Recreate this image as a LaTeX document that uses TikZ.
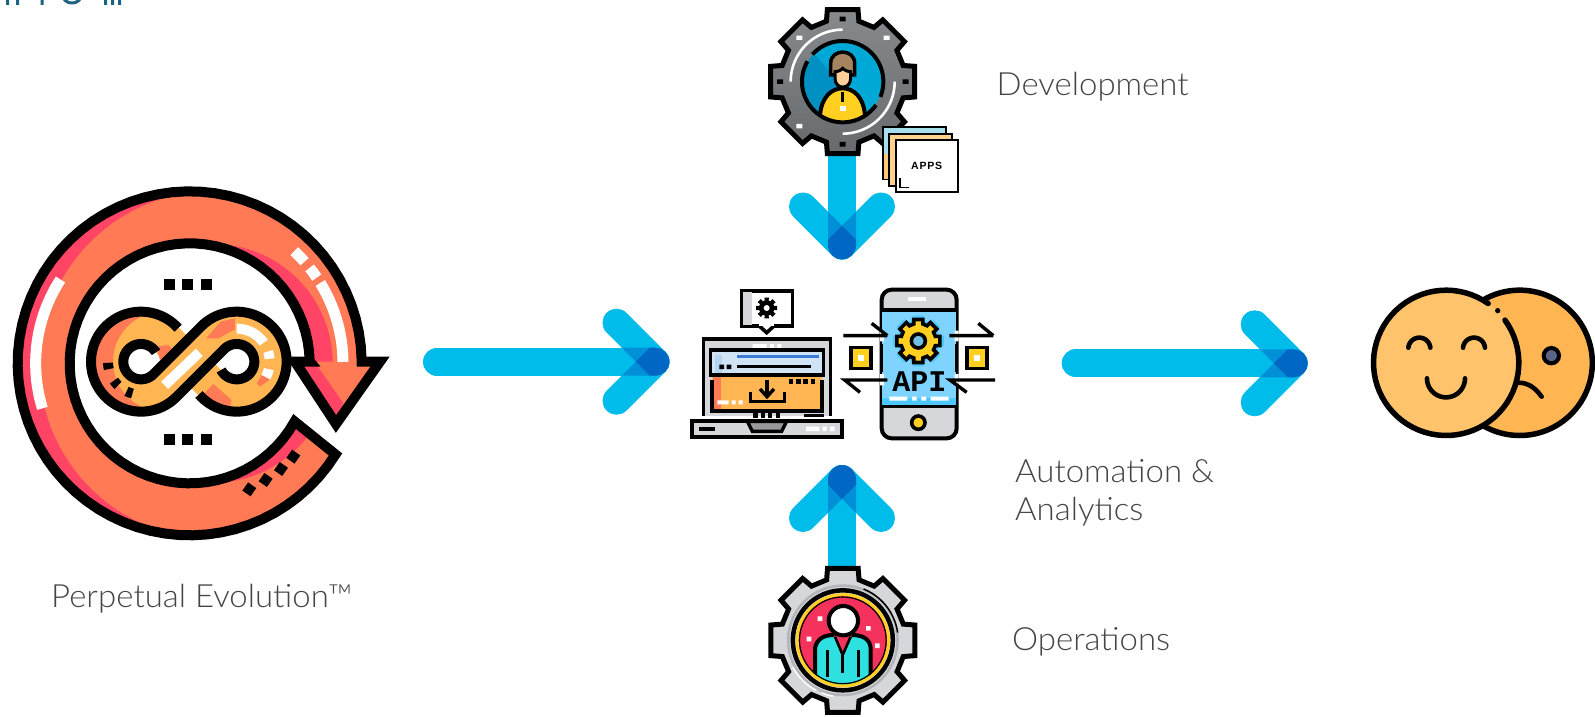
\documentclass[tikz,border=0pt]{standalone}
\usepackage{fontspec}
\setmainfont{Liberation Sans}
\newfontfamily\lightfont[UprightFont=* Light,FakeStretch=1.03]{Lato}
\newfontfamily\apifont[BoldFont=*]{Liberation Mono Bold}
\usetikzlibrary{calc}
\definecolor{arrowcyan}{HTML}{00BCEB}
\definecolor{arrowmid}{HTML}{0090D8}
\definecolor{arrowdark}{HTML}{0068C4}
\definecolor{flame}{HTML}{FF7A55}
\definecolor{crimson}{HTML}{FF4465}
\definecolor{amber}{HTML}{FFB652}
\definecolor{label}{HTML}{454547}
\definecolor{steel}{HTML}{7A7D80}
\definecolor{silver}{HTML}{D6D7DA}
\definecolor{skyfill}{HTML}{7ED4FF}
\definecolor{golden}{HTML}{FFD020}
\definecolor{titleblue}{HTML}{1B6285}
\tikzset{
  lbl/.style={font=\lightfont\fontsize{32}{38}\selectfont,text=label,anchor=base west,inner sep=0pt},
  ink/.style={draw=black,line width=#1},
  ink/.default=5pt,
  zoomed/.style={x=0.33333pt,y=-0.33333pt},
}
% arc in screen-clockwise degrees about (#1,#2)
\def\arcc#1#2#3#4#5{plot[domain=#4:#5,samples=70,variable=\t]({#1+#3*cos(\t)},{#2+#3*sin(\t)})}
\def\larcc#1#2#3#4#5{-- plot[domain=#4:#5,samples=70,variable=\t]({#1+#3*cos(\t)},{#2+#3*sin(\t)})}
\newcommand\gearshape[4]{({#1+#4*#3*cos(-15)},{#2+#4*#3*sin(-15)})
  \foreach \a in {0,45,...,315}{
    -- ({#1+#4*#3*cos(\a-15)},{#2+#4*#3*sin(\a-15)})
    -- ({#1+#3*cos(\a-12)},{#2+#3*sin(\a-12)})
    -- ({#1+#3*cos(\a+12)},{#2+#3*sin(\a+12)})
    -- ({#1+#4*#3*cos(\a+15)},{#2+#4*#3*sin(\a+15)})
  } -- cycle}
% #1 tail coordinate, #2 tip coordinate, #3 rotation
\newcommand\bluearrow[3]{%
  \draw[arrowcyan,line width=28pt,line cap=round] (#1) -- (#2);
  \begin{scope}[shift={(#2)},rotate=#3]
    \draw[arrowcyan,line width=28pt,line cap=round,line join=round] (-39,39) -- (0,0) -- (-39,-39);
    \fill[arrowmid] (-33.8,14) -- (-19.8,0) -- (-33.8,-14) -- (0,-14) -- (0,14) -- cycle;
    \fill[arrowdark] (-19.8,0) -- (-5.8,14) -- (0,14) arc[start angle=90,end angle=-90,radius=14] -- (-5.8,-14) -- cycle;
  \end{scope}}
\begin{document}
\begin{tikzpicture}[x=1pt,y=-1pt,line join=miter]
\useasboundingbox (0,0) rectangle (1595,717);
\fill[white] (0,0) rectangle (1595,717);

% remnants of a cropped heading
\fill[titleblue] (6,0) rectangle (9,5) (16,0) rectangle (19,5) (40.5,0) rectangle (43.5,5)
  (104,0) rectangle (107,5) (111,0) rectangle (114,5) (118,0) rectangle (121,5);
\draw[titleblue,line width=3pt] \arcc{72}{-7}{10}{30}{150};

\coordinate (leftTail) at (437,361.7);   \coordinate (leftTip) at (655.5,361.7);
\coordinate (rightTail) at (1075.7,363.3); \coordinate (rightTip) at (1293.7,363.3);
\coordinate (devTail) at (842,140);      \coordinate (devTip) at (842,245.5);
\coordinate (opsTail) at (842,580);      \coordinate (opsTip) at (842,479);

\bluearrow{leftTail}{leftTip}{0}
\bluearrow{rightTail}{rightTip}{0}
\bluearrow{devTail}{devTip}{-90}
\bluearrow{opsTail}{opsTip}{90}

% ---------- Perpetual Evolution icon ----------
\begin{scope}[shift={(0,170)},zoomed]
  \def\loopshape{\arcc{569}{580}{516}{32}{359} -- (1085,575) -- (1140,575) -- (1008,762) -- (885,575) -- (930,575) \larcc{569}{580}{360}{-1}{-331} -- cycle}
  \fill[flame] \loopshape;
  \begin{scope}
    \clip \loopshape;
    \fill[crimson,even odd rule] (-100,-100) rectangle (1300,1300) (640,585) circle[radius=522];
    \fill[crimson] (640,580) circle[radius=358];
    \fill[flame] (885,575) -- (1140,575) -- (1008,762) -- cycle;
    \fill[crimson] (905,585) -- (950,585) -- (1030,700) -- (1005,745) -- cycle;
  \end{scope}
  \draw[white,line width=11pt] \arcc{569}{580}{462}{163}{213};
  \draw[white,line width=11pt] \arcc{569}{580}{460}{-31.6}{-0.5};
  \draw[white,line width=11pt] \arcc{569}{580}{460}{-47}{-41.5};
  \draw[white,line width=11pt] \arcc{569}{580}{460}{-38.5}{-34};
  \draw[ink=10pt] \loopshape;
  \foreach \x in {508,564,620}{
    \fill (\x-16.5,327) rectangle (\x+16.5,360);
    \fill (\x-16.5,792) rectangle (\x+16.5,825);
  }
  \foreach \x/\y in {748/958,797/930,843/897,880/860}{
    \fill[rotate around={-35:(\x,\y)}] (\x-15,\y-15) rectangle (\x+15,\y+15);
  }
  % infinity band
  \draw[amber,line width=34pt] \arcc{423}{575}{101.5}{45}{315} \larcc{710}{575}{101.5}{135}{-135} -- cycle;
  \fill[flame] \arcc{423}{575}{150}{77}{283} \larcc{489}{575}{150}{257}{103} -- cycle;
  \fill[white] (423,575) circle[radius=53] (710,575) circle[radius=53];
  \fill[flame] (618,505) -- (662,455) -- (705,445) -- (705,478) -- (655,505) -- cycle;
  \fill[flame] (610,672) -- (640,642) -- (695,690) -- (690,710) -- (640,700) -- cycle;
  \fill[flame] (470,530) -- (505,525) -- (515,535) -- (480,570) -- cycle;
  \fill[flame] (770,640) -- (800,590) -- (808,630) -- (780,650) -- cycle;
  \draw[white,line width=10pt] (494,646) -- (598,547);
  \draw[white,line width=10pt] \arcc{710}{575}{99}{-90}{-35};
  \draw[white,line width=10pt] \arcc{710}{575}{99}{-18}{-5};
  \draw[white,line width=10pt] \arcc{710}{575}{99}{13}{28};
  \draw[ink=10pt] \arcc{423}{575}{99}{167}{178};
  \draw[ink=10pt] \arcc{423}{575}{99}{134}{145};
  \draw[ink=10pt] \arcc{423}{575}{99}{105}{116};
  \draw[ink=10pt] \arcc{423}{575}{150}{-42}{-315} \larcc{710}{575}{53}{225}{512};
  \draw[ink=10pt] \arcc{710}{575}{150}{139}{-135} \larcc{423}{575}{53}{45}{328};
\end{scope}

% ---------- Development gear ----------
\begin{scope}[shift={(680,0)},zoomed]
  \draw[ink=5pt,top color=steel!90!white,bottom color=steel!85!black] \gearshape{488}{245}{221}{0.85};
  \draw[white,line width=2.6pt] \arcc{488}{245}{156}{180}{270};
  \draw[white,line width=2.6pt] \arcc{488}{245}{156}{0}{90};
  \fill[white] (349,107) rectangle (367,120) (611,107) rectangle (629,120) (349,372) rectangle (367,385);
  \fill[black] (479,50) rectangle (497,64) (479,426) rectangle (497,440) (291,238) rectangle (309,252) (668,238) rectangle (686,252);
  \begin{scope}
    \clip (488,245) circle[radius=120];
    \fill[fill={rgb,255:red,0;green,168;blue,214}] (488,245) circle[radius=120];
    \fill[fill={rgb,255:red,0;green,144;blue,194}] (340,120) -- (405,165) -- (570,350) -- (340,400) -- cycle;
    \draw[ink=4pt,fill=golden] (420,370) -- (420,345) .. controls (425,290) and (455,265) .. (488,265) .. controls (520,265) and (550,290) .. (555,345) -- (555,370) -- cycle;
  \end{scope}
  \draw[black,line width=2.6pt] (488,275) -- (488,305);
  \fill[white] (479,319) rectangle (497,332);
  \draw[ink=3.5pt,fill={rgb,255:red,166;green,132;blue,95}] (452,225) -- (452,190) .. controls (452,145) and (524,145) .. (524,190) -- (524,225) -- cycle;
  \draw[ink=3pt,fill={rgb,255:red,255;green,208;blue,154}] (465,215) .. controls (480,215) and (488,205) .. (488,205) .. controls (488,205) and (497,215) .. (512,215) -- (512,235) .. controls (512,270) and (465,270) .. (465,235) -- cycle;
  \draw[ink=4pt] \arcc{488}{245}{122}{35}{210};
  \draw[ink=4pt] \arcc{488}{245}{122}{222}{382};
  % app cards
  \draw[ink=1.7pt,fill={rgb,255:red,168;green,222;blue,235}] (610,382) rectangle (797,538);
  \fill[fill={rgb,255:red,255;green,200;blue,120}] (612,462) rectangle (640,536);
  \draw[ink=1.7pt,fill={rgb,255:red,253;green,210;blue,138}] (628,402) rectangle (815,557);
  \draw[ink=1.7pt,fill=white] (648,420) rectangle (834,575);
  \draw[black,line width=1.2pt] (660,535) -- (660,562) -- (688,562);
  \node (apps) at (740,497) {\fontsize{10.5}{12}\selectfont\bfseries A\kern.8pt P\kern.8pt P\kern.8pt S};
\end{scope}

% ---------- Operations gear ----------
\begin{scope}[shift={(750,460)},zoomed]
  \draw[ink=5pt,fill=silver] \gearshape{278.5}{541}{221}{0.85};
  \fill[fill={rgb,255:red,180;green,181;blue,186}] (278.5,541) circle[radius=168];
  \fill[silver] (278.5,541) circle[radius=160];
  \draw[black,line width=1.5pt] \arcc{278.5}{541}{166}{-68}{-8};
  \draw[white,line width=1.5pt] \arcc{278.5}{541}{170}{118}{152};
  \draw[white,line width=1.5pt] \arcc{278.5}{541}{170}{100}{112};
  \begin{scope}
    \clip (278.5,541) circle[radius=135];
    \fill[fill={rgb,255:red,245;green,50;blue,92}] (278.5,541) circle[radius=135];
    \draw[ink=4pt,fill={rgb,255:red,47;green,224;blue,224}] (195,690) -- (195,565) .. controls (200,535) and (225,525) .. (250,525) -- (306,525) .. controls (335,525) and (360,535) .. (362,565) -- (362,690) -- cycle;
    \fill[fill={rgb,255:red,245;green,50;blue,92}] (250,527) -- (306,527) -- (278,575) -- cycle;
    \draw[black,line width=2.6pt] (255,530) -- (278,585) -- (302,530);
    \draw[black,line width=2.6pt] (278,585) -- (278,640);
    \draw[black,line width=2.6pt] (233,570) -- (233,650);
    \draw[black,line width=2.6pt] (325,570) -- (325,650);
  \end{scope}
  \draw[ink=4pt,fill=white] (280,482) circle[radius=44];
  \fill[white] (203,469) rectangle (217,483) (170,530) rectangle (184,544) (348,498) rectangle (362,512) (375,550) rectangle (389,564);
  \draw[ink=4.5pt] (278.5,541) circle[radius=150];
  \draw[line width=3pt,golden] (278.5,541) circle[radius=137];
  \draw[black,line width=1.2pt] (278.5,541) circle[radius=130];
\end{scope}

% ---------- Laptop ----------
\begin{scope}[shift={(680,270)},zoomed]
  \draw[ink=3.6pt,fill=white] (185,63) rectangle (337,168);
  \fill[silver] (188,66) rectangle (215,165);
  \draw[ink=3.6pt,fill=white] (238,168) -- (260,188) -- (282,168);
  \fill[white] (238,162) rectangle (282,168);
  \fill[black] \gearshape{260}{114}{32}{0.72};
  \fill[white] (260,114) circle[radius=9];

  \draw[ink=3.6pt,fill=silver] (70,438) -- (70,207) -- (452,207) -- (452,438);
  \fill[white] (218,222) rectangle (260,235) (270,222) rectangle (282,235) (292,222) rectangle (304,235);
  \fill[amber] (95,315) rectangle (427,422);
  \fill[flame] (100,318) rectangle (122,420);
  \fill[fill={rgb,255:red,207;green,227;blue,245}] (95,245) rectangle (427,312);
  \fill[fill={rgb,255:red,58;green,123;blue,213}] (170,254) rectangle (418,263);
  \fill[fill={rgb,255:red,180;green,212;blue,240}] (105,254) rectangle (125,310);
  \draw[black,line width=3.2pt] (92,240) rectangle (430,315);
  \draw[black,line width=3.2pt] (172,290) -- (392,290);
  \fill (118,284) rectangle (132,297) (140,284) rectangle (154,297);
  \draw[black,line width=3.6pt] (96,330) -- (96,423) -- (426,423) -- (426,330);
  \foreach \x in {333,355,377,399}{\fill (\x-7,327) rectangle (\x+7,341);}
  \draw[black,line width=3pt] (211,367) -- (211,393) -- (312,393) -- (312,367);
  \draw[black,line width=3.4pt] (261,330) -- (261,378);
  \draw[black,line width=3.4pt] (240,357) -- (261,380) -- (282,357);
  \fill[white] (112,391) rectangle (146,403) (155,391) rectangle (167,403) (176,391) rectangle (188,403);
  \foreach \x in {226,248,270,293}{\fill (\x-6.5,430) rectangle (\x+6.5,443);}
  \fill (372,431) rectangle (432,442);
  \draw[ink=3.8pt,fill=silver] (37,452) rectangle (486,500);
  \draw[black,line width=3.4pt,fill={rgb,255:red,150;green,152;blue,155}] (202,454) -- (320,454) -- (305,484) -- (217,484) -- cycle;
  \fill (56,470) rectangle (104,484);
  \fill[white] (378,470) rectangle (418,483) (428,470) rectangle (440,483) (450,470) rectangle (464,483);

  % ---------- Phone ----------
  \draw[ink=4pt,fill=silver,rounded corners=10pt] (605,59) rectangle (830,505);
  \fill[skyfill] (607,122) rectangle (828,407);
  \fill[fill={rgb,255:red,77;green,200;blue,255}] \gearshape{715}{213}{78}{0.82};
  \fill[fill={rgb,255:red,77;green,200;blue,255}] (607,385) rectangle (828,407);
  \draw[black,line width=3.6pt] (605,120) -- (830,120) (605,410) -- (830,410);
  \fill[white] (685,81) rectangle (738,93);
  \draw[ink=3.6pt,fill=golden] (715,458) circle[radius=20];
  \fill[white] (628,380) rectangle (682,392) (696,380) rectangle (710,392) (724,380) rectangle (738,392) (752,380) rectangle (806,392);
  \draw[ink=3.6pt,fill=golden] \gearshape{715}{213}{66}{0.80};
  \draw[ink=3.6pt,fill=skyfill!90!black] (715,213) circle[radius=21];
  \node[font=\apifont\bfseries\fontsize{30}{30}\selectfont,text=black,inner sep=0pt] (api) at (718,335) {API};
  % white breaks in the phone edge
  \fill[white] (600,182) rectangle (612,214) (824,182) rectangle (836,214) (600,312) rectangle (612,346) (824,312) rectangle (836,346);
  \draw[black,line width=3.4pt] (490,197) -- (622,197) (575,160) -- (622,197);
  \draw[black,line width=3.4pt] (808,197) -- (940,197) (895,160) -- (940,197);
  \draw[black,line width=3.4pt] (622,330) -- (494,330) -- (540,367);
  \draw[black,line width=3.4pt] (945,330) -- (810,330) -- (860,367);
  \draw[black,line width=3.4pt] (605,222) -- (605,305) (830,222) -- (830,305);
  \foreach \x in {543.5,891.5}{
    \draw[ink=3.6pt,fill=golden] (\x-30,233) rectangle (\x+30,295);
    \fill[white] (\x-9,255) rectangle (\x+9,273);
  }
\end{scope}

% ---------- Faces ----------
\begin{scope}[shift={(1350,270)},zoomed]
  \draw[ink=5.5pt,fill=amber] (509,278.5) circle[radius=218];
  \draw[black,line width=4.6pt,line cap=round] (505,338) .. controls (540,338) and (560,360) .. (575,380);
  \draw[ink=4pt,fill={rgb,255:red,90;green,100;blue,136}] (604,257) circle[radius=23];
  \fill[fill={rgb,255:red,255;green,195;blue,107}] (288.5,278.5) circle[radius=218];
  \draw[black,line width=5.5pt,line cap=round] \arcc{288.5}{278.5}{218}{-36}{305.3};
  \fill (443,122) circle[radius=8];
  \draw[black,line width=4.6pt,line cap=round] \arcc{208}{236}{33}{185}{355};
  \draw[black,line width=4.6pt,line cap=round] \arcc{372}{236}{33}{185}{355};
  \draw[black,line width=4.6pt,line cap=round] \arcc{288}{325}{57}{0}{180};
\end{scope}

% ---------- Labels ----------
\node[lbl] (pe) at (51,607) {Perpetual Evolution™};
\node[lbl] (dev) at (996.5,95.7) {Development};
\node[lbl] (auto) at (1015,482) {Automation \&};
\node[lbl] (ana) at (1015,520) {Analytics};
\node[lbl] (ops) at (1012,650) {Operations};
\end{tikzpicture}
\end{document}
